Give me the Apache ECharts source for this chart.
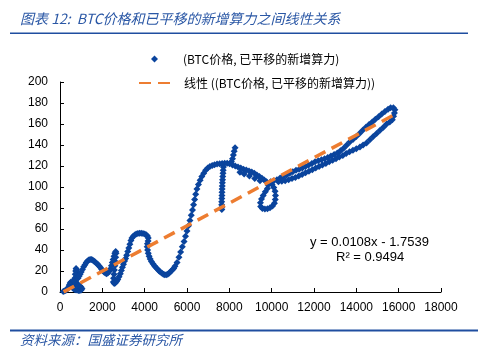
<!DOCTYPE html>
<html><head><meta charset="utf-8">
<script src="https://cdn.jsdelivr.net/npm/echarts@6/dist/echarts.min.js"></script>
<style>html,body{margin:0;padding:0;background:#fff}#c{width:496px;height:360px}</style>
</head><body><div id="c"></div>
<script>
// BTC price (x) and shifted new hash rate (y), traced in order
const btcPrice = [
150,200,250,300,350,400,420,450,480,520,560,600,640,680,720,760,800,780,760,740,720,700,680,650,620,600,640,700,760,820,880,940,1000,1040,1000,950,900,850,800,750,700,650,
850,900,950,1000,1060,1120,1180,1240,1300,1360,1420,1480,1540,1600,1660,1720,1780,1840,1900,1960,2020,2080,2140,2200,2260,2320,2380,2430,2470,2510,2550,2590,2630,2650,2630,2610,2590,2570,2550,2530,2520,2560,2610,2670,2730,2790,2850,2900,2950,3000,3050,3100,3150,3200,3250,3300,3350,3400,3460,3530,3600,3680,3760,3840,3920,4000,4070,4130,4170,4160,4130,4120,4140,4170,4210,4260,4320,4390,4460,4530,4600,4670,4740,4810,4880,4950,5020,5090,5160,5230,5300,5370,5430,
5530,5620,5700,5780,5860,5930,6000,6070,6140,6200,6260,6310,6360,6410,6470,6540,6620,6700,6790,6880,6980,7080,7190,7300,7420,7540,7660,7780,7900,8010,
8100,8150,8190,8230,8270,
7720,7710,7700,7690,7680,7670,7665,7660,7655,7650,7645,7640,7640,7640,7645,
8150,8280,8410,8540,8670,8800,8930,9060,9180,9300,9420,9540,9650,9760,9830,9800,9700,9600,9520,9470,9480,9560,9680,9800,9920,10040,10130,10170,10180,10160,10100,10020,9950,
8500,8700,8950,9200,9450,
10100,10250,10400,10550,10700,10850,11000,11150,11300,11450,11600,11750,11900,12050,12200,12350,12500,12650,12800,12950,13100,13250,13400,13550,13700,13850,14000,14150,14300,14450,14600,14750,14900,15050,15200,15350,15500,15620,15750,15820,15800,15760,
15700,15580,15430,15280,15120,14960,14800,14640,14480,14320,14170,14000,13840,13680,13520,13360,13200,13040,12880,12720,12560,12400,12240,12080,11920,11760,11600,11440,11280,11120,10960,10800,10640,10480,10320
];
const newHashRate = [
0.5,1,1.5,2,3,4,5.5,7,8.5,9.5,8,6,5,7,10,14,18,21,22.5,20,17,13,10,8,6,4,3,2.5,2,2,1.5,1.5,2,3,4.5,5.5,6,7,8,9,10,11,
13,15,17,19,21.5,24,26,28,29.5,30.5,31,31,30.5,29.5,28.5,27.5,26.5,25,23.5,22,20.5,19,18,17.5,18,19.5,22,25,28,31,34,37,38.5,37,33,29,25,21,17,13,9.5,8,8.5,10,12,14.5,17.5,20.5,23.5,26.5,29.5,32,35,38.5,42,45.5,49,51.5,53,54.3,55.2,55.8,56,56,55.7,55.2,54.5,53.3,51.5,48.5,46,43,40,37,34,31.5,29,27,25,23.3,21.8,20.3,19,18,17,16.5,16.5,17,18,19.5,21,22.5,24.5,
28,33,38,43,48,53,58,63,68,73,78,83,88,93,98,102.5,106.5,110,113,116,118,119.5,120.5,121.2,121.8,122.2,122.5,122.7,122.6,122.2,
124,127,130.5,134,137.5,
119,116,113,110,107,104,101,98,95,92,89,86,83,80.5,78.5,
121,120,119,118,117,116.2,115.3,114.3,113,111.5,110,108.3,106.7,105,102,98.5,95.5,92,88.5,85,81.5,79.5,79,79.3,80.2,81.8,84.5,88,92,96,99.5,102.5,105,
114,112.5,110.5,108,106,
106,107,108.5,110,111.5,113,114.5,116,117,118,119.5,121,122.5,124,125,126,127,128,129.5,131,132.5,134.5,137,140,143,145.5,148,151,154,157,159.5,162,164.5,167,169.5,172,174,175.5,175.5,173.5,170.5,167.5,
164,162,160,157,154,151,148,145,142,140,138,136.5,135,133.5,132,130,128.5,127,125.5,124,122.5,121,119.5,118,116.5,115,113.5,112,110.5,109,108,107,106,105.5,105
];
// Linear trend endpoints (y = 0.0108x - 1.7539)
const trendX = [170, 15830];
const trendY = [0.08, 169.2];
const xTicks = [0, 2000, 4000, 6000, 8000, 10000, 12000, 14000, 16000, 18000];
const yTicks = [0, 20, 40, 60, 80, 100, 120, 140, 160, 180, 200];
const seriesName = '(BTC价格, 已平移的新增算力)';
const trendName = '线性 ((BTC价格, 已平移的新增算力))';
const titleText = '图表 12:  BTC价格和已平移的新增算力之间线性关系';
const sourceText = '资料来源：国盛证券研究所';
const eqText = 'y = 0.0108x - 1.7539';
const r2Text = 'R² = 0.9494';

const pts = btcPrice.map((x, i) => [x, newHashRate[i]]);
const trend = trendX.map((x, i) => [x, trendY[i]]);

const chart = echarts.init(document.getElementById('c'), null, {renderer: 'canvas'});
const blue = '#0a449d';
const orange = '#ED7D31';
const axisFont = {fontFamily: 'Liberation Sans', fontSize: 12, color: '#000'};
const legendText = {fontFamily: 'Noto Sans CJK SC', fontSize: 12, color: '#000'};
chart.setOption({
  animation: false,
  backgroundColor: '#fff',
  grid: {left: 60, right: 55, top: 82, bottom: 68, containLabel: false},
  legend: [
    {orient: 'vertical', left: 151, top: 53, padding: 0, itemWidth: 7, itemHeight: 7,
     textStyle: Object.assign({padding: [0, 0, 0, 20]}, legendText),
     data: [{name: seriesName, icon: 'diamond'}]},
    {orient: 'vertical', left: 138, top: 77, padding: 0, itemWidth: 34, itemHeight: 12,
     textStyle: Object.assign({padding: [0, 0, 0, 6]}, legendText),
     data: [{name: trendName, itemStyle: {opacity: 0}}]}
  ],
  xAxis: {
    type: 'value', min: xTicks[0], max: xTicks[xTicks.length - 1], interval: 2000,
    splitLine: {show: false},
    axisLine: {lineStyle: {color: '#000', width: 1}},
    axisTick: {inside: true, length: 4, lineStyle: {color: '#000'}},
    axisLabel: Object.assign({margin: 10, formatter: v => String(v)}, axisFont)
  },
  yAxis: {
    type: 'value', min: yTicks[0], max: yTicks[yTicks.length - 1], interval: 20,
    splitLine: {show: false},
    axisLine: {show: true, lineStyle: {color: '#000', width: 1}},
    axisTick: {show: true, inside: true, length: 4, lineStyle: {color: '#000'}},
    axisLabel: Object.assign({margin: 12, formatter: v => String(v)}, axisFont)
  },
  series: [
    {name: seriesName, type: 'scatter', symbol: 'diamond', symbolSize: 7,
     itemStyle: {color: blue, opacity: 1}, data: pts, z: 2},
    {name: trendName, type: 'line', symbol: 'none', data: trend, z: 3,
     lineStyle: {color: orange, width: 3.5, type: [12, 7], cap: 'butt'},
     itemStyle: {color: orange}}
  ],
  graphic: [
    {type: 'text', left: 20, top: 12, style: {text: titleText, fill: '#2a57a5', font: 'italic 14px "Noto Sans CJK SC"'}},
    {type: 'rect', shape: {x: 10, y: 32.5, width: 458, height: 1.5}, style: {fill: '#1f4ea0'}},
    {type: 'rect', shape: {x: 10, y: 329.5, width: 468, height: 2}, style: {fill: '#1f4ea0'}},
    {type: 'text', left: 20, top: 333, style: {text: sourceText, fill: '#2a57a5', font: 'italic 13.5px "Noto Sans CJK SC"'}},
    {type: 'text', left: 310, top: 236, style: {text: eqText, fill: '#000', font: '13px "Liberation Sans"'}},
    {type: 'text', left: 336, top: 251, style: {text: r2Text, fill: '#000', font: '13px "Liberation Sans"'}}
  ]
});
</script></body></html>
